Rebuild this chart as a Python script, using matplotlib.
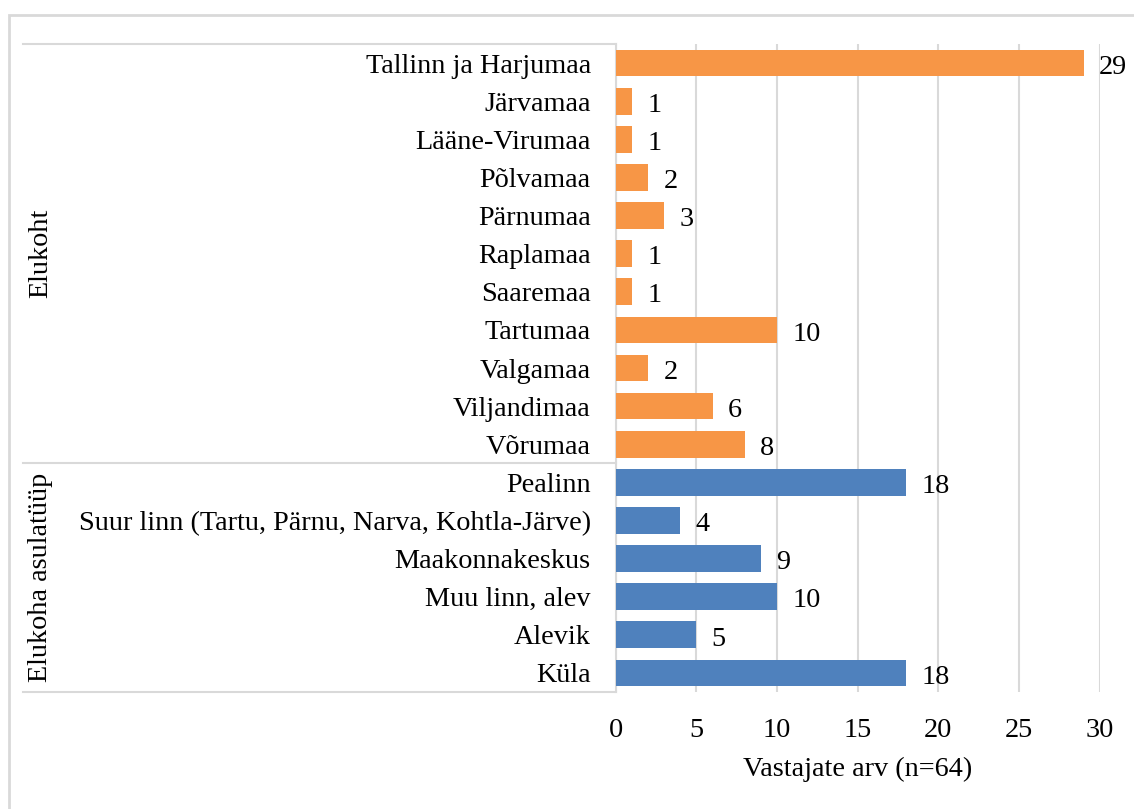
import numpy as np
import matplotlib.pyplot as plt
from matplotlib.patches import Rectangle
from matplotlib.lines import Line2D

plt.rcParams["font.family"] = ["Liberation Serif", "DejaVu Serif"]

# ------------------------------------------------------------
# Data
# ------------------------------------------------------------
elukoht_labels = [
    "Tallinn ja Harjumaa", "Järvamaa", "Lääne-Virumaa", "Põlvamaa",
    "Pärnumaa", "Raplamaa", "Saaremaa", "Tartumaa", "Valgamaa",
    "Viljandimaa", "Võrumaa",
]
elukoht_values = [29, 1, 1, 2, 3, 1, 1, 10, 2, 6, 8]

asula_labels = [
    "Pealinn", "Suur linn (Tartu, Pärnu, Narva, Kohtla-Järve)",
    "Maakonnakeskus", "Muu linn, alev", "Alevik", "Küla",
]
asula_values = [18, 4, 9, 10, 5, 18]

group_names = ["Elukoht", "Elukoha asulatüüp"]
x_ticks = [0, 5, 10, 15, 20, 25, 30]
x_label = "Vastajate arv (n=64)"

ORANGE = "#F79646"
BLUE = "#4F81BD"
GRID = "#D9D9D9"
FS = 20.3

# ------------------------------------------------------------
# Plot
# ------------------------------------------------------------
labels = elukoht_labels + asula_labels
values = elukoht_values + asula_values
colors = [ORANGE] * len(elukoht_values) + [BLUE] * len(asula_values)
n = len(labels)
y = np.arange(n)

fig = plt.figure(figsize=(11.34, 8.09), dpi=100)
ax = fig.add_axes([0.543, 0.1446, 0.4268, 0.8010])

ax.barh(y, values, height=0.7, color=colors, zorder=3)
ax.set_ylim(n - 0.5, -0.5)
ax.set_xlim(0, 30)
ax.set_xticks(x_ticks)
ax.set_yticks(y)
ax.set_yticklabels(labels, fontsize=FS)
ax.tick_params(axis="y", length=0, pad=18)
ax.tick_params(axis="x", length=0, pad=19, labelsize=FS)
ax.set_xlabel(x_label, fontsize=FS, labelpad=10)

ax.grid(axis="x", color=GRID, linewidth=1.5, zorder=0)
for side in ["top", "right", "bottom"]:
    ax.spines[side].set_visible(False)
ax.spines["left"].set_color(GRID)
ax.spines["left"].set_linewidth(1.5)

for yi, v in zip(y, values):
    ax.annotate(str(v), (v, yi), xytext=(11, -3), textcoords="offset points",
                va="center", ha="left", fontsize=FS, clip_on=False)

# group separator lines and group labels (figure coordinates)
x0 = 23 / 1134
x1 = 616 / 1134
def fy(py):
    return 1 - py / 809

n_e = len(elukoht_labels)
sep_rows = [-0.5, n_e - 0.5, n - 0.5]
for r in sep_rows:
    yy = ax.transData.transform((0, r))[1] / fig.bbox.height
    fig.add_artist(Line2D([x0, x1], [yy, yy], color=GRID, linewidth=1.5))

group_bounds = [(-0.5, n_e - 0.5), (n_e - 0.5, n - 0.5)]
for name, (a, b) in zip(group_names, group_bounds):
    ya = ax.transData.transform((0, a))[1] / fig.bbox.height
    yb = ax.transData.transform((0, b))[1] / fig.bbox.height
    fig.text(41 / 1134, (ya + yb) / 2, name, rotation=90, fontsize=FS,
             ha="center", va="center")

# outer border
fig.add_artist(Rectangle((9 / 1134, -0.02), 1.05, fy(15) + 0.02,
                         fill=False, edgecolor=GRID, linewidth=2,
                         transform=fig.transFigure))

fig.savefig("out.png", dpi=100)
